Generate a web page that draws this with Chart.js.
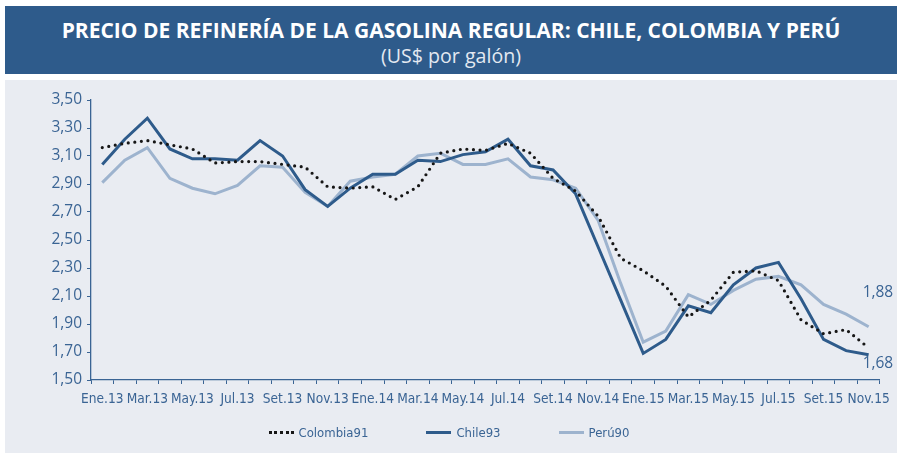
<!DOCTYPE html>
<html>
<head>
<meta charset="utf-8">
<title>Precio de refinería de la gasolina regular</title>
<script src="https://cdn.jsdelivr.net/npm/chart.js@4"></script>
<style>
body{margin:0;background:#fff;font-family:"Open Sans",sans-serif}
#wrap{position:relative;width:903px;height:453px;overflow:hidden}
#head{position:absolute;left:5px;top:6px;width:892px;height:68px;background:#2E5B8B;color:#fff;text-align:center}
#head .t1{position:absolute;left:0;right:0;top:11px;font-weight:700;font-size:21px;line-height:26px}
#head .t2{position:absolute;left:0;right:0;top:38px;font-size:19.6px;line-height:24px;color:#e3e9f1}
#panel{position:absolute;left:5px;top:80px;width:892px;height:373px;background:#E9ECF2}
#chart{position:absolute;left:0;top:0}
#legend{position:absolute;left:0;top:345px;width:888px;display:flex;justify-content:center;align-items:center;gap:58px;
font-family:"Liberation Sans Narrow","DejaVu Sans Condensed","Roboto Condensed",Roboto,sans-serif;font-size:13px;color:#3A6494}
#legend .item{display:flex;align-items:center}
#legend .sw{width:25px;height:0;margin-right:5px}
</style>
</head>
<body>
<div id="wrap">
  <div id="head">
    <div class="t1">PRECIO DE REFINERÍA DE LA GASOLINA REGULAR: CHILE, COLOMBIA Y PERÚ</div>
    <div class="t2">(US$ por galón)</div>
  </div>
  <div id="panel">
    <canvas id="chart" width="892" height="373"></canvas>
    <div id="legend"></div>
  </div>
</div>

<script>
// =============================
// DATA
// =============================

const months = [
"Ene.13","Feb.13","Mar.13","Abr.13","May.13","Jun.13","Jul.13","Ago.13","Set.13","Oct.13","Nov.13","Dic.13",
"Ene.14","Feb.14","Mar.14","Abr.14","May.14","Jun.14","Jul.14","Ago.14","Set.14","Oct.14","Nov.14","Dic.14",
"Ene.15","Feb.15","Mar.15","Abr.15","May.15","Jun.15","Jul.15","Ago.15","Set.15","Oct.15","Nov.15"
]

const colombia91 = [
3.16,3.19,3.21,3.18,3.15,3.05,3.06,3.06,3.04,3.02,2.88,2.87,
2.88,2.79,2.88,3.12,3.15,3.14,3.19,3.12,2.94,2.85,2.67,2.37,
2.28,2.17,1.95,2.07,2.27,2.28,2.21,1.93,1.83,1.86,1.73
]

const chile93 = [
3.04,3.22,3.37,3.15,3.08,3.08,3.07,3.21,3.10,2.86,2.74,2.87,
2.97,2.97,3.07,3.06,3.11,3.13,3.22,3.03,3.00,2.83,2.45,2.07,
1.69,1.79,2.03,1.98,2.18,2.30,2.34,2.08,1.79,1.71,1.68
]

const peru90 = [
2.91,3.07,3.16,2.94,2.87,2.83,2.89,3.03,3.02,2.84,2.74,2.92,
2.95,2.97,3.10,3.12,3.04,3.04,3.08,2.95,2.93,2.87,2.64,2.19,
1.77,1.85,2.11,2.04,2.14,2.22,2.24,2.18,2.04,1.97,1.88
]

const seriesNames = ["Colombia91","Chile93","Perú90"]

const yMin = 1.5
const yMax = 3.5
const yStep = 0.2


// =============================
// STYLE
// =============================

const textColor = "#3A6494"
const axisColor = "#3A6494"
const colors = ["#161616","#2E5B8B","#9DB3CE"]
const narrowFont = '"Liberation Sans Narrow","DejaVu Sans Condensed","Roboto Condensed",Roboto,sans-serif'

function fmt(v){
return v.toFixed(2).replace(".",",")
}


// =============================
// END LABELS (last value)
// =============================

const endLabels = {
id:"endLabels",
afterDatasetsDraw(chart){
const ctx = chart.ctx
ctx.save()
ctx.font = '15.5px "Open Sans"'
ctx.fillStyle = textColor
ctx.textAlign = "left"
ctx.textBaseline = "middle"
// [dataset index, vertical offset]
const marks = [[2,-34],[1,9]]
marks.forEach(([i,dy])=>{
const meta = chart.getDatasetMeta(i)
const pt = meta.data[meta.data.length-1]
const data = chart.data.datasets[i].data
ctx.fillText(fmt(data[data.length-1]), pt.x-6, pt.y+dy)
})
ctx.restore()
}
}


// =============================
// CHART
// =============================

const ctx = document.getElementById("chart")

const chart = new Chart(ctx,{

type:"line",

data:{
labels:months,
datasets:[
{
label:seriesNames[0],
data:colombia91,
borderColor:colors[0],
borderWidth:3.2,
borderDash:[0,6.6],
borderCapStyle:"round"
},
{
label:seriesNames[1],
data:chile93,
borderColor:colors[1],
borderWidth:3
},
{
label:seriesNames[2],
data:peru90,
borderColor:colors[2],
borderWidth:3
}
]
},

options:{
responsive:false,
animation:false,
layout:{padding:{left:0,top:20,right:17,bottom:43}},
elements:{
point:{radius:0},
line:{tension:0,fill:false}
},
plugins:{
legend:{display:false},
tooltip:{enabled:false}
},
scales:{
x:{
offset:true,
afterFit(s){ s.height = 30 },
grid:{display:true,drawOnChartArea:false,offset:true,tickLength:4,color:axisColor},
border:{color:axisColor,width:1.3},
ticks:{
autoSkip:false,
maxRotation:0,
padding:7,
color:textColor,
font:{family:narrowFont,size:13.6},
callback(v,i){ return i%2===0 ? months[i] : "" }
}
},
y:{
min:yMin,
max:yMax,
afterFit(s){ s.width = 86 },
grid:{display:true,drawOnChartArea:false,tickLength:4,color:axisColor},
border:{color:axisColor,width:1.3},
ticks:{
stepSize:yStep,
padding:5,
color:textColor,
font:{family:'"Open Sans",sans-serif',size:15.5},
callback(v){ return fmt(v) }
}
}
}
},

plugins:[endLabels]

})


// =============================
// LEGEND
// =============================

const legend = document.getElementById("legend")
const swatches = [
"border-top:3px dotted "+colors[0],
"border-top:3px solid "+colors[1],
"border-top:3px solid "+colors[2]
]

seriesNames.forEach((name,i)=>{
const item = document.createElement("div")
item.className = "item"
item.innerHTML = `<span class="sw" style="${swatches[i]}"></span><span>${name}</span>`
legend.appendChild(item)
})
</script>
</body>
</html>
